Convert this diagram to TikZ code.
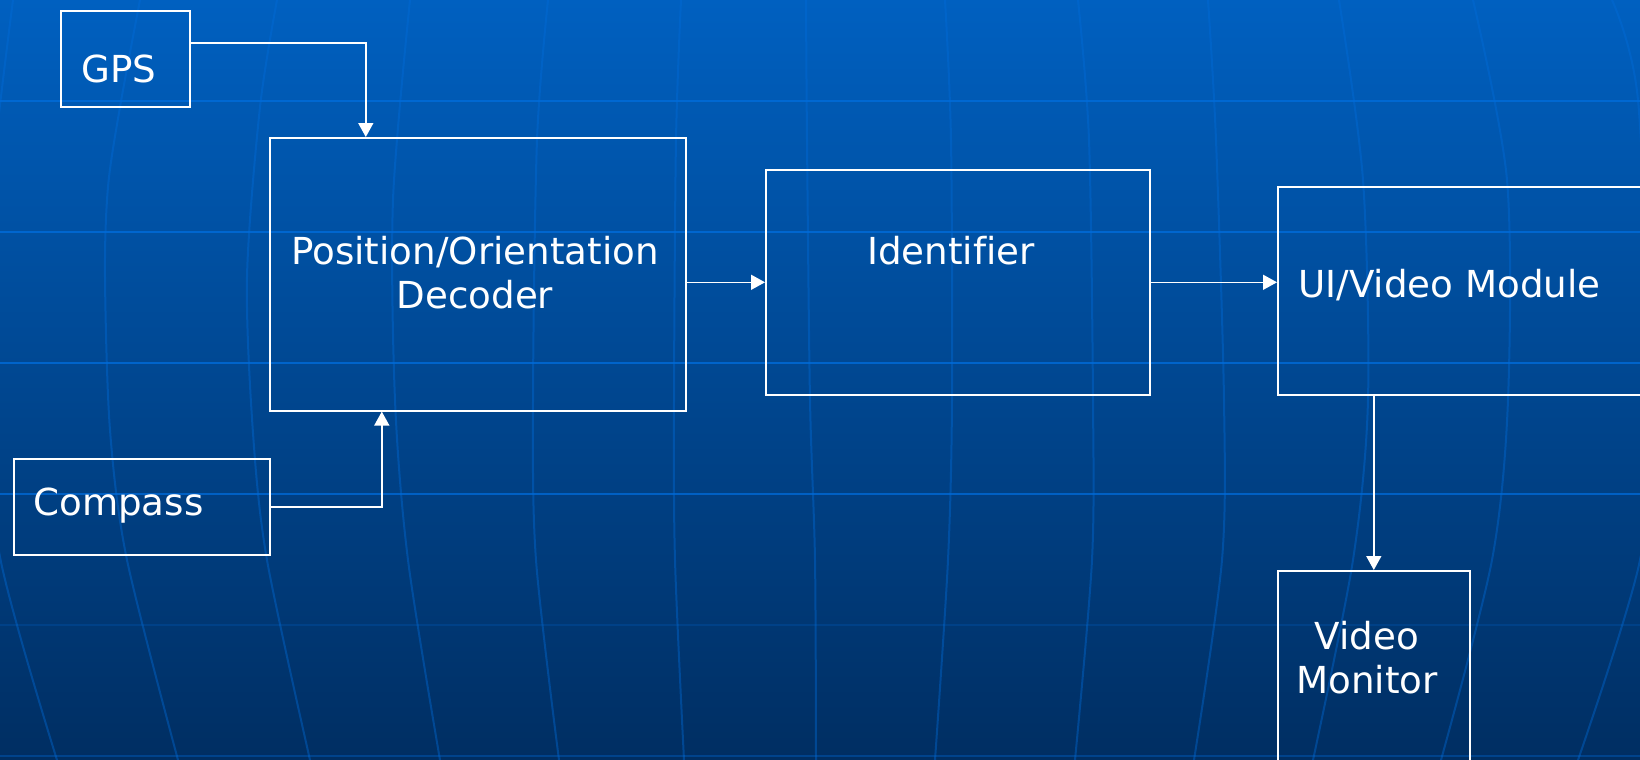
\documentclass[tikz,border=0pt]{standalone}
\usepackage{fontspec}
\setmainfont{DejaVu Sans}[Ligatures=NoCommon]
\usetikzlibrary{arrows.meta, positioning}
\definecolor{bgtop}{RGB}{0,96,192}
\definecolor{bgbot}{RGB}{0,46,98}
\definecolor{gridblue}{RGB}{0,108,218}
\tikzset{>={Triangle[width=7.5pt, length=7pt]},
  block/.style={draw=white, line width=0.8pt, inner sep=0pt, anchor=north west},
  lbl/.style={text=white, inner sep=0pt, font=\fontsize{18.6pt}{22pt}\selectfont},
  link/.style={->, draw=white, line width=0.8pt},
  parallel/.style={draw=gridblue, line width=1.3pt},
  meridian/.style={draw=gridblue, draw opacity=0.4, line width=1pt}}

\begin{document}
\begin{tikzpicture}[x=0.5pt, y=-0.5pt]
    \useasboundingbox (0,0) rectangle (1640,760);
    \clip (0,0) rectangle (1640,760);
    % background
    \fill[top color=bgtop, bottom color=bgbot] (0,0) rectangle (1640,760);
    \foreach \y/\op in {101/0.8, 232/0.8, 363/0.8, 494/0.75, 625/0.2, 756/0.35}
        \draw[parallel, draw opacity=\op] (0,\y) -- (1640,\y);
    \draw[meridian] plot[smooth] coordinates {(13,0) (-10,200) (-15,380) (0,557) (57,760)};
    \draw[meridian] plot[smooth] coordinates {(140,0) (120,107) (108,187) (105,277) (110,430) (127,560) (178,760)};
    \draw[meridian] plot[smooth] coordinates {(277,0) (260,107) (247,277) (253,433) (267,560) (310,760)};
    \draw[meridian] plot[smooth] coordinates {(410,0) (393,200) (395,400) (408,560) (440,760)};
    \draw[meridian] plot[smooth] coordinates {(548,0) (537,140) (533,400) (536,560) (559,760)};
    \draw[meridian] plot[smooth] coordinates {(681,0) (676,140) (674,400) (675,560) (684,760)};
    \draw[meridian] plot[smooth] coordinates {(806,0) (807,140) (810,400) (815,560) (816,760)};
    \draw[meridian] plot[smooth] coordinates {(945,0) (951,140) (952,400) (948,560) (935,760)};
    \draw[meridian] plot[smooth] coordinates {(1078,0) (1089,140) (1093,400) (1092,560) (1075,760)};
    \draw[meridian] plot[smooth] coordinates {(1208,0) (1216,140) (1224,400) (1222,560) (1194,760)};
    \draw[meridian] plot[smooth] coordinates {(1339,0) (1363,180) (1368,400) (1353,560) (1313,760)};
    \draw[meridian] plot[smooth] coordinates {(1473,0) (1507,180) (1508,400) (1492,560) (1441,760)};
    \draw[meridian] plot[smooth] coordinates {(1612,0) (1638,100) (1650,400) (1640,560) (1578,760)};

    % blocks
    \node[block, minimum width=64.5pt, minimum height=48pt] (gps) at (60,10) {};
    \node[block, minimum width=208pt, minimum height=136.5pt] (dec) at (269,137) {};
    \node[block, minimum width=192pt, minimum height=112.5pt] (ident) at (765,169) {};
    \node[block, minimum width=201.5pt, minimum height=104pt] (ui) at (1277,186) {};
    \node[block, minimum width=128pt, minimum height=48pt] (comp) at (13,458) {};
    \node[block, minimum width=96pt, minimum height=110pt] (mon) at (1277,570) {};

    % texts (base of a two-line node is its last line)
    \node[lbl, anchor=base west] (gpstxt) at (81,83) {GPS};
    \node[lbl, anchor=base, align=center] (dectxt) at (475,308) {Position/Orientation\\Decoder};
    \node[lbl, anchor=base] (identtxt) at (951,264) {Identifier};
    \node[lbl, anchor=base west] (uitxt) at (1298,297) {UI/Video Module};
    \node[lbl, anchor=base west] (comptxt) at (33,515) {Compass};
    \node[lbl, anchor=base, align=center] (montxt) at (1367,693) {Video\\Monitor};

    % links
    \draw[link] ([yshift=8pt]gps.east) -| ([xshift=-56pt]dec.north);
    \draw[link] (comp.east) -| ([xshift=-48pt]dec.south);
    \draw[link] (dec.east |- ident.west) -- (ident.west);
    \draw[link] (ident.east) -- (ident.east -| ui.west);
    \draw[link] (mon.north |- ui.south) -- (mon.north);
\end{tikzpicture}
\end{document}
